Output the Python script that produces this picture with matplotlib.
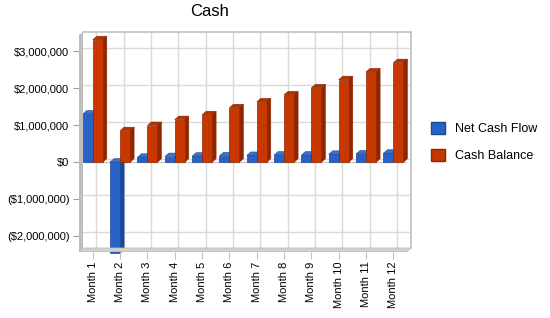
import matplotlib
matplotlib.use("Agg")
import matplotlib.pyplot as plt
from matplotlib.patches import Polygon
from matplotlib.transforms import IdentityTransform
from matplotlib.ticker import FuncFormatter

months = ["Month %d" % i for i in range(1, 13)]
net_cash_flow = [1.30, -2.46, 0.13, 0.15, 0.16, 0.17, 0.18, 0.19, 0.19, 0.21, 0.22, 0.24]
cash_balance = [3.31, 0.85, 0.99, 1.15, 1.28, 1.47, 1.63, 1.82, 2.01, 2.23, 2.44, 2.69]
series_names = ["Net Cash Flow", "Cash Balance"]

# front face / top / side colours
blue = ("#2862C6", "#3A72D2", "#1D4894")
red = ("#C83700", "#B83000", "#8E2700")

plt.rcParams['font.family'] = ['Liberation Sans', 'DejaVu Sans']

W, H = 550, 318
fig = plt.figure(figsize=(W / 100, H / 100), dpi=100)

# back wall in pixels (from top-left)
bx0, bx1, by0, by1 = 82.7, 410.7, 248.0, 31.7
depth = 3.6  # px shift from back wall to front plane
ylo, yhi = -2.42e6, 3.43e6

ax_b = fig.add_axes([bx0 / W, 1 - by0 / H, (bx1 - bx0) / W, (by0 - by1) / H])
ax_f = fig.add_axes([(bx0 - depth) / W, 1 - (by0 + depth) / H, (bx1 - bx0) / W, (by0 - by1) / H])

for a in (ax_b, ax_f):
    a.set_xlim(0.5, 12.5)
    a.set_ylim(ylo, yhi)

# back wall with grid
ax_b.set_facecolor("white")
ax_b.set_yticks([-2e6, -1e6, 0, 1e6, 2e6, 3e6])
ax_b.set_xticks(range(1, 13))
ax_b.grid(True, color="#DADADA", linewidth=1.0)
ax_b.tick_params(length=0, labelleft=False, labelbottom=False)
for s in ["left", "bottom"]:
    ax_b.spines[s].set_visible(False)
for s in ["top", "right"]:
    ax_b.spines[s].set_color("#C0C0C0")
    ax_b.spines[s].set_linewidth(1.2)

# left wall and floor, display pixels
def px(pts):
    return [(x, H - y) for x, y in pts]

lw = Polygon(px([(bx0 + 0.5, by1), (bx0 + 0.5, by0 + depth), (bx0 - depth, by0 + depth), (bx0 - depth, by1 + depth)]),
             closed=True, facecolor="#BEBEBE", edgecolor="none", transform=IdentityTransform(), zorder=5)
fl = Polygon(px([(bx0, by0), (bx1, by0), (bx1 - depth, by0 + depth), (bx0 - depth, by0 + depth)]),
             closed=True, facecolor="#D2D2D2", edgecolor="#BDBDBD", linewidth=0.6,
             transform=IdentityTransform(), zorder=5)
fig.patches.extend([lw, fl])

# front plane: bars, ticks, labels
ax_f.patch.set_visible(False)
for s in ax_f.spines.values():
    s.set_visible(False)

sx = (bx1 - bx0) / 12.0
sy = (by0 - by1) / (yhi - ylo)
ddx = 4.0 / sx
ddy = 3.5 / sy
bw = 10.0 / sx

x = list(range(1, 13))
for vals, cols, off in [(net_cash_flow, blue, -bw), (cash_balance, red, 0.0)]:
    for xi, v in zip(x, vals):
        v = v * 1e6
        x0 = xi + off
        x1 = x0 + bw
        top = max(v, 0)
        bot = min(v, 0)
        ax_f.add_patch(Polygon([(x0, top), (x1, top), (x1 + ddx, top + ddy), (x0 + ddx, top + ddy)],
                               closed=True, facecolor=cols[1], edgecolor=cols[2], linewidth=0.4,
                               clip_on=False))
        ax_f.add_patch(Polygon([(x1, bot), (x1, top), (x1 + ddx, top + ddy), (x1 + ddx, bot + ddy)],
                               closed=True, facecolor=cols[2], edgecolor=cols[2], linewidth=0.4,
                               clip_on=False))
    ax_f.bar([xi + off for xi in x], [v * 1e6 for v in vals], width=bw, align="edge",
             color=cols[0], edgecolor=cols[2], linewidth=0.5, clip_on=False)

ax_f.axhline(0, color="#C8C8C8", linewidth=1.0, zorder=0.5)

def money(v, pos):
    m = int(round(v))
    if m < 0:
        return "(${:,})".format(-m)
    return "${:,}".format(m)

ax_f.set_yticks([-2e6, -1e6, 0, 1e6, 2e6, 3e6])
ax_f.yaxis.set_major_formatter(FuncFormatter(money))
ax_f.set_xticks(x)
ax_f.set_xticklabels(months, rotation=90)
ax_f.tick_params(axis="y", length=4, width=0.8, color="#A0A0A0", pad=3, labelsize=8)
ax_f.tick_params(axis="x", length=5, width=0.8, color="#C0C0C0", pad=2, labelsize=8)

fig.text(210 / W, 1 - 12 / H, "Cash", ha="center", va="center", fontsize=12)

handles = [plt.Rectangle((0, 0), 1, 1, facecolor=blue[0], edgecolor=blue[2]),
           plt.Rectangle((0, 0), 1, 1, facecolor=red[0], edgecolor=red[2])]
fig.legend(handles, series_names, loc="center left", bbox_to_anchor=(431 / W, 1 - 142 / H),
           frameon=False, fontsize=9, handlelength=1.1, handleheight=1.1,
           handletextpad=0.8, labelspacing=1.05, borderaxespad=0, borderpad=0)

fig.savefig("out.png", dpi=100)
